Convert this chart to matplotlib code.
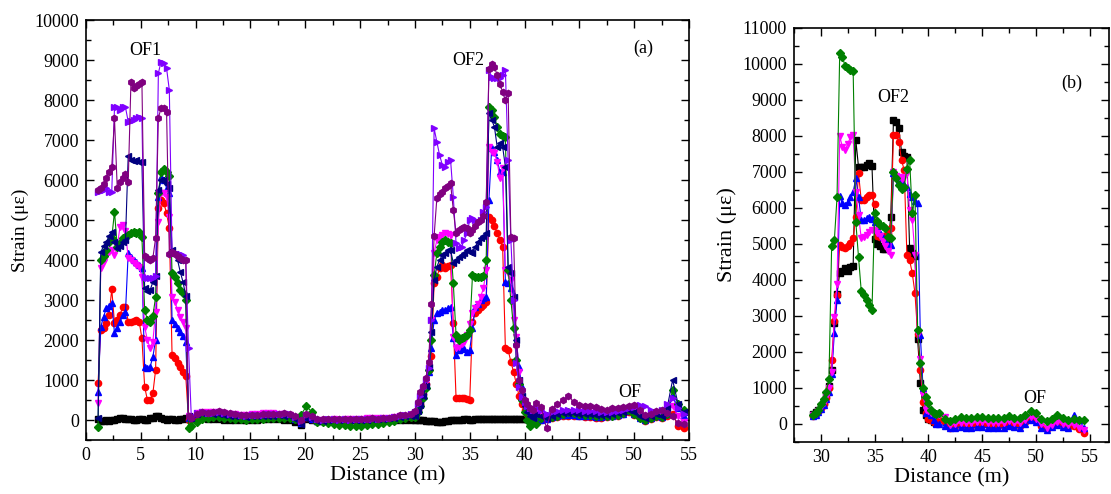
import numpy as np
import matplotlib.pyplot as plt
from matplotlib.ticker import MultipleLocator

plt.rcParams['font.family'] = ['Liberation Serif', 'DejaVu Serif']

# ---- panel (a) sampling positions (m) ----
x_of1 = np.linspace(1.1, 9.35, 34)
x_mid = np.linspace(9.6, 29.6, 41)
x_of2 = np.linspace(30.0, 40.75, 44)
x_tail = np.linspace(41.0, 54.5, 28)

# ---- panel (a) strain values (micro-strain) ----
a_black = [30, -20, -30, 0, -20, 0, 10, 20, 40, 50, 30, 20, 30, 10, 0, 20, 30, 0, 10, 40,
           60, 100, 90, 60, 20, 0, 20, 30, 0, 10, 20, 30, 40, 20,
           20, 30, 40, 30, 30, 20, 10, 10, 0, 0, 10, 10, 10, 20, 20, 20, 20, 10, 0, -50,
           -120, 30, 0, -30, -20, -10, -10, -10, -10, 0, 0, 0, 0, 10, 10, 10, 10, 0, 0, 0, 0,
           0, 0, -10, -10, -20, -20, -30, -30, -40, -50, -40, -30, -20, -10, 0, 0, 10, 10, 20, 20,
           10, 10, 20, 20, 20, 20, 20, 20, 30, 30, 30, 30, 30, 30, 30, 30, 30, 30, 30, 30,
           30, 20, 20, 20]
a_red = [930, 2250, 2290, 2420, 2620, 3270, 2420, 2500, 2620, 2830, 2820, 2460, 2460, 2480, 2500, 2460, 2040, 830, 500, 500,
         670, 1250, 5300, 5500, 5420, 5170, 4790, 1625, 1540, 1420, 1330, 1210, 1100, 0,
         40, 100, 150, 160, 150, 140, 120, 100, 90, 80, 80, 90, 90, 100, 110, 110, 110, 100, 80, 20,
         -60, 70, 20, -20, -10, 0, 0, 0, 10, 10, 10, 10, 20, 20, 20, 30, 30, 40, 50, 70, 80,
         100, 250, 400, 650, 900, 1250, 1600, 3420, 3580, 3790, 3870, 3800, 3850, 3870, 2420, 560, 540, 540, 540, 520,
         500, 2460, 2670, 2750, 2830, 2870, 2950, 5080, 5000, 4850, 4670, 4500, 4330, 1790, 1750, 1460, 1200, 900, 600, 400,
         250, 150, 50, -50,
         -50, 0, 50, 60, 80, 100, 110, 100, 90, 80, 70, 60, 60, 70, 90, 110, 140, 200, 130, 40,
         -20, 30, 80, 60, 100, 150, -150, -200]
a_blue = [710, 2330, 2580, 2790, 2850, 2920, 2170, 2290, 2460, 2620, 2690, 4170, 4080, 4000, 3950, 3870, 3800, 1330, 1290, 1330,
          1580, 2000, 5580, 6080, 6000, 5800, 5670, 2500, 2400, 2300, 2210, 2100, 1960, 50,
          60, 150, 190, 180, 170, 160, 140, 120, 100, 90, 90, 100, 100, 110, 120, 120, 130, 120, 100, 30,
          -80, 80, 30, -20, -10, 0, 10, 0, 10, 10, 20, 10, 20, 30, 30, 30, 40, 50, 80, 90, 110,
          120, 250, 400, 600, 850, 1200, 1800, 2500, 2670, 2710, 2750, 2760, 2800, 2830, 2040, 1625, 1750, 1790, 1780, 1710,
          1750, 2290, 2830, 2900, 3000, 3050, 3080, 5500, 6800, 6700, 6500, 6210, 6210, 3460, 3420, 3300, 3130, 1960, 1330, 830,
          500, 300, 150, 50,
          50, 0, 30, 80, 100, 120, 130, 120, 110, 100, 90, 80, 80, 90, 110, 130, 160, 220, 150, 50,
          0, 50, 100, 80, 150, 600, 300, 100]
a_magenta = [420, 3790, 3960, 4100, 4200, 4250, 4120, 4330, 4830, 4870, 4730, 4040, 4000, 3920, 3880, 3830, 3580, 2330, 2000, 1800,
             1960, 2710, 4960, 5670, 5670, 5580, 5080, 3080, 2960, 2750, 2580, 2460, 2290, 100,
             80, 170, 200, 210, 200, 190, 170, 150, 140, 130, 130, 140, 150, 170, 180, 170, 160, 150, 130, 60,
             -50, 100, 60, 0, 0, 10, 20, 10, 20, 20, 30, 30, 40, 50, 50, 60, 60, 80, 100, 110, 120,
             150, 300, 500, 700, 950, 1300, 2500, 4170, 4500, 4580, 4620, 4670, 4650, 4620, 2080, 1790, 1830, 1900, 1960, 2120,
             2400, 2670, 2790, 2900, 3080, 3300, 3750, 6830, 6710, 6670, 6460, 6040, 6300, 3750, 3670, 3500, 2500, 2080, 1200, 700,
             450, 300, 200, 150,
             200, 150, 100, 150, 180, 200, 210, 200, 190, 180, 170, 160, 150, 150, 170, 190, 220, 270, 220, 120,
             70, 110, 160, 130, 200, 350, 100, -50]
a_green = [-170, 4000, 4100, 4250, 4450, 4550, 5210, 4330, 4420, 4540, 4580, 4620, 4670, 4710, 4670, 4710, 4580, 2750, 2500, 2460,
           2600, 3080, 5670, 6210, 6270, 6200, 6100, 3670, 3580, 3420, 3250, 3170, 3000, -200,
           -150, -50, 20, 50, 70, 80, 60, 40, 30, 20, 10, 20, 30, 30, 40, 40, 50, 50, 40, 20,
           120, 350, 200, -50, -50, -80, -100, -120, -130, -140, -150, -150, -130, -110, -100, -80, -50, -20, 20, 60, 80,
           80, 200, 350, 550, 800, 1250, 2000, 3620, 4170, 4330, 4460, 4500, 4450, 4420, 3420, 2125, 2000, 2040, 2080, 2125,
           2250, 3620, 3580, 3570, 3570, 3600, 4000, 7830, 7750, 7580, 7330, 7150, 7100, 7080, 3750, 3000, 2300, 1500, 900, 500,
           200, 0, -150, -50,
           -100, 50, 100, 80, 100, 150, 200, 180, 150, 130, 120, 110, 100, 90, 100, 130, 170, 250, 150, 60,
           0, 50, 100, 80, 150, 750, 400, 250]
a_navy = [50, 4200, 4350, 4450, 4600, 4700, 4450, 4300, 4350, 4450, 4500, 6600, 6500, 6480, 6500, 6450, 6450, 3300, 3220, 3250,
          3450, 3600, 5750, 6000, 6000, 5900, 5800, 4250, 4150, 4000, 3700, 3450, 3100, 100,
          50, 140, 180, 170, 160, 150, 130, 110, 100, 90, 80, 90, 100, 100, 110, 110, 120, 110, 90, 20,
          -100, 60, 20, -30, -20, -10, 0, 0, 0, 10, 10, 10, 10, 20, 20, 30, 40, 50, 70, 90, 100,
          100, 230, 380, 600, 850, 1330, 2200, 3500, 3830, 4000, 4120, 4170, 4250, 4250, 3920, 4000, 4080, 4120, 4170, 4250,
          4200, 4170, 4330, 4460, 4540, 4600, 4670, 7670, 7500, 7330, 6830, 6920, 6830, 6330, 3830, 3670, 3080, 2000, 1000, 600,
          350, 200, 100, 50,
          150, 100, 50, 100, 150, 170, 180, 170, 160, 150, 140, 130, 120, 130, 150, 170, 200, 250, 200, 100,
          50, 100, 150, 100, 300, 1000, 400, 200]
a_violet = [5700, 5720, 5760, 5800, 5700, 5700, 7820, 7830, 7750, 7820, 7820, 7460, 7480, 7500, 7540, 7580, 7550, 3580, 3540, 3540,
            3560, 3600, 8670, 8960, 8920, 8790, 8250, 4170, 4170, 4150, 4150, 4130, 4000, 1800,
            100, 180, 190, 170, 180, 200, 180, 150, 140, 120, 110, 120, 130, 130, 140, 140, 150, 150, 140, 80,
            -20, 130, 80, 20, 10, 20, 20, 10, 20, 10, 20, 20, 20, 30, 30, 40, 50, 70, 100, 120, 140,
            200, 400, 600, 800, 1000, 1300, 2500, 7290, 6960, 6620, 6380, 6330, 6450, 6500, 5580, 4420, 4300, 4330, 4500, 4670,
            5000, 5040, 5000, 4960, 5000, 5200, 5330, 8750, 8580, 8540, 8540, 8540, 8620, 8750, 6500, 4500, 3000, 1420, 830, 580,
            450, 350, 300, 250,
            300, 250, 150, 200, 220, 250, 260, 250, 240, 230, 230, 220, 200, 200, 210, 230, 250, 300, 330, 380,
            350, 250, 200, 250, 400, 550, 300, 150]
a_purple = [5750, 5800, 5900, 6050, 6200, 6330, 7540, 5800, 5950, 6050, 6150, 5950, 8450, 8300, 8350, 8400, 8450, 4100, 4050, 4000,
            4050, 4550, 7550, 7800, 7800, 7700, 4150, 4200, 4150, 4100, 4050, 4000, 4000, 100,
            50, 150, 200, 180, 200, 220, 200, 170, 150, 130, 120, 130, 130, 140, 150, 150, 160, 170, 160, 100,
            -10, 150, 100, 30, 20, 30, 30, 20, 30, 20, 30, 20, 30, 40, 30, 40, 60, 80, 120, 130, 150,
            230, 450, 700, 850, 1050, 1450, 2900, 4600, 5550, 5650, 5700, 5790, 5850, 5920, 5250, 4670, 4750, 4800, 4830, 4790,
            4670, 4750, 4850, 4950, 5000, 5100, 5460, 8770, 8900, 8830, 8620, 8400, 8200, 8000, 8170, 4580, 4540, 1870, 1000, 750,
            500, 400, 300, 250,
            420, 330, -200, 280, 400, 500, 600, 450, 380, 360, 340, 320, 280, 250, 290, 300, 320, 350, 370, 250,
            130, 160, 220, 240, 170, 90, -80, -100]

# ---- panel (b) sampling positions (m) ----
xb_peak = np.linspace(29.25, 40.75, 47)
xb_tail = np.linspace(41.0, 54.5, 28)

# ---- panel (b) strain values ----
b_black = [270, 320, 400, 500, 620, 800, 1050, 1500, 2800, 3600, 4200, 4250, 4320, 4250, 4350, 4390, 7880, 7130, 7130, 7150,
           7190, 7240, 7170, 5150, 5000, 4950, 4870, 4850, 5000, 5760, 8440, 8400, 8210, 7560, 7440, 7420, 4900, 4750, 4670, 2350,
           1150, 400, 250, 150, 100, 50, 20]
b_red = [230, 280, 350, 450, 560, 720, 1000, 1780, 2850, 3580, 4960, 4920, 4900, 4950, 5030, 5160, 5760, 6960, 6220, 6230,
         6310, 6360, 6360, 6110, 5210, 5200, 5210, 5220, 5300, 5430, 8030, 8030, 7840, 7330, 7050, 4690, 4550, 4190, 3630, 2500,
         1500, 600, 300, 150, 100, 50, 30,
         100, 50, -100, -60, -20, -40, -50, -20, -20, -40, -50, -60, -40, 0, -40, -50, 50, 150, 100, -50,
         -130, -50, 20, -40, -80, -50, -150, -240]
b_blue = [220, 260, 330, 420, 530, 680, 900, 1400, 2520, 3440, 6320, 6130, 6080, 6170, 6300, 6450, 6820, 6300, 5670, 5670,
          5710, 5760, 5700, 5620, 5450, 5300, 5200, 5110, 4960, 4960, 6960, 6870, 6780, 6730, 6650, 6590, 6400, 6300, 6200, 6130,
          2470, 1000, 300, 350, 250, 100, 0,
          0, -50, -120, -100, -80, -100, -110, -80, -80, -100, -110, -120, -100, -50, -90, -100, 0, 110, 50, -100,
          -170, -80, -30, -80, -100, 250, 100, -100]
b_magenta = [240, 290, 360, 460, 580, 740, 1000, 1450, 2980, 3900, 7990, 7700, 7610, 7790, 7960, 8030, 6450, 5810, 5160, 5190,
             5250, 5340, 5390, 5390, 5300, 5210, 5070, 4930, 4800, 4700, 7000, 6900, 6850, 6800, 6850, 6960, 5940, 5670, 4700, 2500,
             1800, 800, 400, 350, 300, 280, 250,
             250, 200, -30, 0, 40, 30, 20, 60, 60, 40, 30, 20, 40, 80, 40, 30, 100, 200, 150, 0,
             -100, -20, 60, 0, -40, -20, -100, -170]
b_green = [250, 300, 400, 550, 700, 900, 1250, 4950, 5100, 6300, 10310, 10200, 9940, 9880, 9840, 9815, 5600, 4630, 3700, 3580,
           3440, 3300, 3160, 5850, 5640, 5520, 5500, 5450, 5200, 5160, 7000, 6820, 6630, 6540, 6590, 7090, 7340, 5850, 6360, 2610,
           1690, 990, 760, 570, 390, 300, 280,
           300, 150, 80, 150, 200, 180, 170, 200, 200, 180, 170, 160, 180, 220, 180, 170, 250, 370, 300, 150,
           80, 150, 250, 180, 120, 150, 120, 110]

x_a = np.concatenate([x_of1, x_mid, x_of2, x_tail])
x_b = np.concatenate([xb_peak, xb_tail])

fig = plt.figure(figsize=(11.11, 4.94), dpi=100)
ax1 = fig.add_axes([0.0774, 0.1093, 0.5428, 0.8502])
ax2 = fig.add_axes([0.7147, 0.1053, 0.2835, 0.8381])

series_a = [(a_black, '#000000', 's'), (a_red, '#ff0000', 'o'), (a_blue, '#0000ff', '^'),
            (a_magenta, '#ff00ff', 'v'), (a_green, '#008000', 'D'), (a_navy, '#000080', '<'),
            (a_violet, '#8000ff', '>'), (a_purple, '#800080', 'h')]
for y, c, m in series_a:
    ms = 3.6 if m == 'D' else 4.5
    ax1.plot(x_a[:len(y)], y, color=c, marker=m, ms=ms, mec=c, mfc=c, lw=0.8)

series_b = [(b_black, '#000000', 's'), (b_red, '#ff0000', 'o'), (b_blue, '#0000ff', '^'),
            (b_magenta, '#ff00ff', 'v'), (b_green, '#008000', 'D')]
for y, c, m in series_b:
    ms = 3.6 if m == 'D' else 4.5
    ax2.plot(x_b[:len(y)], y, color=c, marker=m, ms=ms, mec=c, mfc=c, lw=0.8)

ax1.set_xlim(0, 55)
ax1.set_ylim(-500, 10000)
ax1.xaxis.set_major_locator(MultipleLocator(5))
ax1.xaxis.set_minor_locator(MultipleLocator(2.5))
ax1.yaxis.set_major_locator(MultipleLocator(1000))
ax1.yaxis.set_minor_locator(MultipleLocator(500))
ax1.set_xlabel('Distance (m)', fontsize=16, labelpad=2)
ax1.set_ylabel('Strain (με)', fontsize=14, labelpad=4)
ax1.text(5.4, 9250, 'OF1', fontsize=13, ha='center', va='center')
ax1.text(34.9, 9000, 'OF2', fontsize=13, ha='center', va='center')
ax1.text(49.6, 700, 'OF', fontsize=13, ha='center', va='center')
ax1.text(50.8, 9300, '(a)', fontsize=13, ha='center', va='center')

ax2.set_xlim(27.5, 56.8)
ax2.set_ylim(-500, 11000)
ax2.xaxis.set_major_locator(MultipleLocator(5))
ax2.xaxis.set_minor_locator(MultipleLocator(2.5))
ax2.yaxis.set_major_locator(MultipleLocator(1000))
ax2.yaxis.set_minor_locator(MultipleLocator(500))
ax2.set_xlabel('Distance (m)', fontsize=16, labelpad=2)
ax2.set_ylabel('Strain (με)', fontsize=16, labelpad=4)
ax2.text(36.7, 9060, 'OF2', fontsize=13, ha='center', va='center')
ax2.text(49.9, 720, 'OF', fontsize=13, ha='center', va='center')
ax2.text(53.3, 9470, '(b)', fontsize=13, ha='center', va='center')

for ax in (ax1, ax2):
    ax.tick_params(which='both', direction='in', top=True, right=True, labelsize=13, width=1)
    ax.tick_params(which='major', length=6, pad=5)
    ax.tick_params(which='minor', length=3.5)
    for s in ax.spines.values():
        s.set_linewidth(1.2)

fig.savefig('out.png', dpi=100)
